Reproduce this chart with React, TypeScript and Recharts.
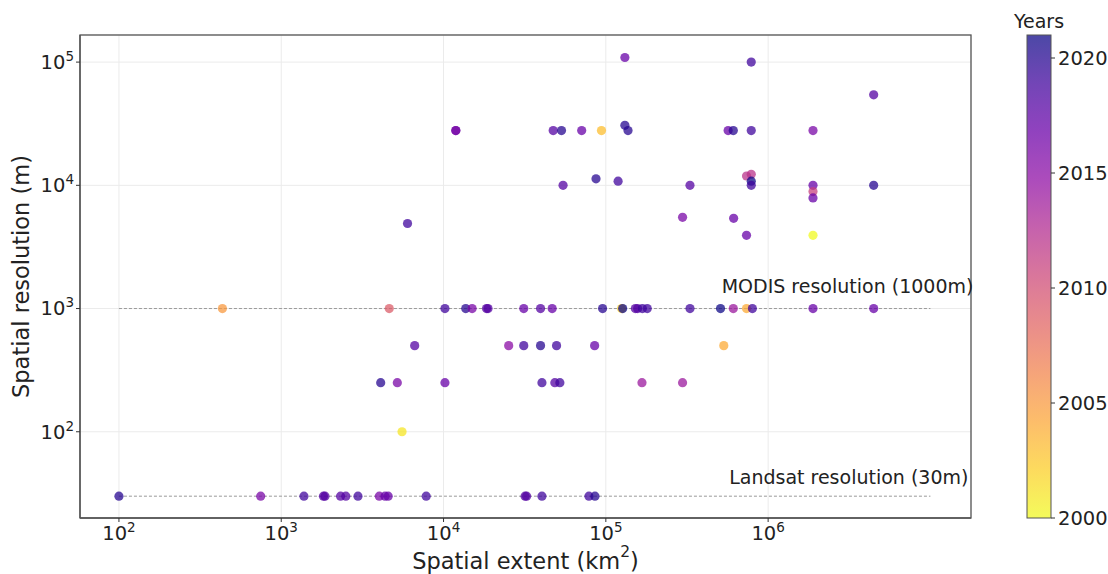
import {
  ScatterChart,
  Scatter,
  Cell,
  XAxis,
  YAxis,
  CartesianGrid,
  ReferenceLine,
  Customized,
} from 'recharts'

// study footprint (km²), pixel size (m) and publication year
const EXTENT_KM2 = [
  1.31e5, 1.19e4, 1.19e4, 4.74e4, 5.33e4, 7.1e4, 9.4e4, 1.31e5, 1.37e5, 8.7e4, 1.19e5,
  5.45e4, 3.3e5, 2.97e5, 6.0e3, 7.87e5, 4.47e6, 5.67e5, 6.1e5, 7.87e5, 1.89e6,
  7.36e5, 7.87e5, 7.87e5, 7.87e5, 1.89e6, 1.89e6, 1.89e6, 4.47e6, 6.13e5, 7.36e5,
  1.89e6,
  434, 4.63e3, 1.02e4, 1.37e4, 1.5e4, 1.84e4, 1.88e4, 3.12e4, 3.96e4, 4.67e4,
  9.55e4, 1.25e5, 1.27e5, 1.52e5, 1.57e5, 1.68e5, 1.8e5, 3.3e5, 5.09e5, 6.1e5,
  7.36e5, 8.0e5, 1.89e6, 4.47e6,
  6.64e3, 2.52e4, 3.12e4, 3.96e4, 4.97e4, 8.53e4, 5.33e5,
  4.1e3, 5.19e3, 1.02e4, 4.04e4, 4.85e4, 5.21e4, 1.67e5, 2.97e5,
  5.55e3,
  100, 747, 1.38e3, 1.82e3, 1.86e3, 2.32e3, 2.5e3, 2.97e3, 4.02e3, 4.36e3,
  4.56e3, 7.82e3, 3.18e4, 3.25e4, 4.04e4, 7.87e4, 8.57e4,
]

const RESOLUTION_M = [
  1.09e5, 27800, 27800, 27800, 27800, 27800, 27800, 30700, 27800, 11300, 10800,
  10000, 10000, 5500, 4900, 100000, 54300, 27800, 27800, 27800, 27800,
  11900, 12300, 10800, 10000, 10000, 8900, 7900, 10000, 5400, 3930,
  3930,
  1000, 1000, 1000, 1000, 1000, 1000, 1000, 1000, 1000, 1000,
  1000, 1000, 1000, 1000, 1000, 1000, 1000, 1000, 1000, 1000,
  1000, 1000, 1000, 1000,
  500, 500, 500, 500, 500, 500, 500,
  250, 250, 250, 250, 250, 250, 250, 250,
  100,
  30, 30, 30, 30, 30, 30, 30, 30, 30, 30,
  30, 30, 30, 30, 30, 30, 30,
]

const YEARS = [
  2017, 2017, 2016, 2018, 2020, 2017, 2003, 2020, 2020, 2020, 2019,
  2018, 2018, 2016, 2019, 2019, 2018, 2017, 2020, 2019, 2016,
  2012, 2012, 2021, 2019, 2017, 2011, 2017, 2020, 2017, 2017,
  2000,
  2005, 2009, 2019, 2020, 2016, 2018, 2018, 2017, 2018, 2017,
  2020, 2002, 2021, 2018, 2018, 2019, 2019, 2019, 2021, 2014,
  2004, 2019, 2017, 2017,
  2018, 2015, 2019, 2020, 2019, 2017, 2004,
  2020, 2016, 2017, 2019, 2018, 2019, 2014, 2014,
  2001,
  2020, 2016, 2019, 2018, 2018, 2018, 2018, 2019, 2016, 2017,
  2017, 2019, 2018, 2018, 2019, 2019, 2020,
]

const X_TICKS = [1e2, 1e3, 1e4, 1e5, 1e6]
const Y_TICKS = [1e2, 1e3, 1e4, 1e5]
const YEAR_TICKS = [2000, 2005, 2010, 2015, 2020]
const YEAR_MIN = 2000
const YEAR_MAX = 2021

const MODIS_RES = 1000
const LANDSAT_RES = 30
const GUIDE_FROM = 1e2
const GUIDE_TO = 1e7

const X_DOMAIN = [Math.pow(10, 1.76), Math.pow(10, 7.25)]
const Y_DOMAIN = [Math.pow(10, 1.3), Math.pow(10, 5.22)]

const W = 1108
const H = 574
const PLOT = { left: 80, top: 35, right: 971, bottom: 518 }
const CBAR = { left: 1027, right: 1051 }
const FONT = '"DejaVu Sans", sans-serif'
const ALPHA = 0.74

// matplotlib plasma, sampled every 0.1
const PLASMA = [
  '#0d0887', '#41049d', '#6a00a8', '#8f0da4', '#b12a90', '#cc4778',
  '#e16462', '#f2844b', '#fca636', '#fcce25', '#f0f921',
]

function hex(c: string) {
  return [1, 3, 5].map((i) => parseInt(c.slice(i, i + 2), 16))
}

function plasma(t: number): string {
  const s = Math.max(0, Math.min(1, t)) * (PLASMA.length - 1)
  const i = Math.min(PLASMA.length - 2, Math.floor(s))
  const f = s - i
  const a = hex(PLASMA[i])
  const b = hex(PLASMA[i + 1])
  const rgb = a.map((v, k) => Math.round(v + (b[k] - v) * f))
  return `rgb(${rgb.join(',')})`
}

// newest = dark blue, oldest = yellow (plasma reversed)
function yearColor(year: number): string {
  return plasma((YEAR_MAX - year) / (YEAR_MAX - YEAR_MIN))
}

const points = EXTENT_KM2.map((x, i) => ({ x, y: RESOLUTION_M[i], year: YEARS[i] }))

function XTick({ x, y, payload }: any) {
  const exp = Math.round(Math.log10(payload.value))
  return (
    <text x={x} y={y + 2} dy="0.71em" textAnchor="middle" fontSize={19.5} fill="#222" fontFamily={FONT}>
      <tspan>10</tspan>
      <tspan dy={-8} fontSize={13.5}>{exp}</tspan>
    </text>
  )
}

function YTick({ x, y, payload }: any) {
  const exp = Math.round(Math.log10(payload.value))
  return (
    <text x={x} y={y} dy="0.35em" textAnchor="end" fontSize={19.5} fill="#222" fontFamily={FONT}>
      <tspan>10</tspan>
      <tspan dy={-8} fontSize={13.5}>{exp}</tspan>
    </text>
  )
}

function GuideLabel({ viewBox, text, dx, dy }: any) {
  if (!viewBox) return null
  return (
    <text
      x={viewBox.x + viewBox.width + dx}
      y={viewBox.y + dy}
      textAnchor="end"
      dominantBaseline="central"
      fontSize={19}
      fill="#222"
      fontFamily={FONT}
    >
      {text}
    </text>
  )
}

function Frame() {
  const span = PLOT.bottom - PLOT.top
  const yearY = (yr: number) => PLOT.bottom - ((yr - YEAR_MIN) / (YEAR_MAX - YEAR_MIN)) * span
  const stops = Array.from({ length: 21 }, (_, i) => i / 20)
  return (
    <g>
      <rect
        x={PLOT.left}
        y={PLOT.top}
        width={PLOT.right - PLOT.left}
        height={PLOT.bottom - PLOT.top}
        fill="none"
        stroke="#555"
        strokeWidth={1.3}
      />
      <defs>
        <linearGradient id="cbar" x1="0" y1="0" x2="0" y2="1">
          {stops.map((t) => (
            <stop key={t} offset={t} stopColor={plasma(t)} stopOpacity={ALPHA} />
          ))}
        </linearGradient>
      </defs>
      <rect
        x={CBAR.left}
        y={PLOT.top}
        width={CBAR.right - CBAR.left}
        height={span}
        fill="url(#cbar)"
        stroke="#555"
        strokeWidth={1}
      />
      {YEAR_TICKS.map((yr) => (
        <g key={yr}>
          <line x1={CBAR.right} x2={CBAR.right + 4} y1={yearY(yr)} y2={yearY(yr)} stroke="#333" />
          <text
            x={CBAR.right + 7}
            y={yearY(yr)}
            dominantBaseline="central"
            fontSize={19.5}
            fill="#222"
            fontFamily={FONT}
          >
            {yr}
          </text>
        </g>
      ))}
      <text
        x={(CBAR.left + CBAR.right) / 2}
        y={21}
        textAnchor="middle"
        dominantBaseline="central"
        fontSize={19}
        fill="#222"
        fontFamily={FONT}
      >
        Years
      </text>
      <text
        x={21}
        y={(PLOT.top + PLOT.bottom) / 2}
        transform={`rotate(-90 21 ${(PLOT.top + PLOT.bottom) / 2})`}
        textAnchor="middle"
        dominantBaseline="central"
        fontSize={22.5}
        fill="#222"
        fontFamily={FONT}
      >
        Spatial resolution (m)
      </text>
      <text
        x={(PLOT.left + PLOT.right) / 2}
        y={561}
        textAnchor="middle"
        dominantBaseline="central"
        fontSize={22.5}
        fill="#222"
        fontFamily={FONT}
      >
        Spatial extent (km<tspan dy={-9} fontSize={15.5}>2</tspan>
        <tspan dy={9}>)</tspan>
      </text>
    </g>
  )
}

export default function App() {
  return (
    <div style={{ position: 'absolute', left: 0, top: 0, width: W, height: H, background: '#fff' }}>
      <ScatterChart
        width={W}
        height={H}
        margin={{ top: PLOT.top, right: W - PLOT.right, bottom: 0, left: 0 }}
      >
        <CartesianGrid stroke="#ebebeb" strokeWidth={1} />
        <XAxis
          dataKey="x"
          type="number"
          scale="log"
          domain={X_DOMAIN}
          allowDataOverflow
          ticks={X_TICKS}
          tick={<XTick />}
          tickSize={4}
          tickLine={{ stroke: '#333' }}
          axisLine={{ stroke: '#555', strokeWidth: 1.3 }}
          height={H - PLOT.bottom}
        />
        <YAxis
          dataKey="y"
          type="number"
          scale="log"
          domain={Y_DOMAIN}
          allowDataOverflow
          ticks={Y_TICKS}
          tick={<YTick />}
          tickSize={4}
          tickLine={{ stroke: '#333' }}
          axisLine={{ stroke: '#555', strokeWidth: 1.3 }}
          width={PLOT.left}
        />
        <ReferenceLine
          segment={[{ x: GUIDE_FROM, y: MODIS_RES }, { x: GUIDE_TO, y: MODIS_RES }]}
          stroke="#999"
          strokeWidth={1}
          strokeDasharray="3 2"
          ifOverflow="visible"
          label={<GuideLabel text="MODIS resolution (1000m)" dx={43} dy={-23} />}
        />
        <ReferenceLine
          segment={[{ x: GUIDE_FROM, y: LANDSAT_RES }, { x: GUIDE_TO, y: LANDSAT_RES }]}
          stroke="#999"
          strokeWidth={1}
          strokeDasharray="3 2"
          ifOverflow="visible"
          label={<GuideLabel text="Landsat resolution (30m)" dx={38} dy={-19} />}
        />
        <Scatter
          data={points}
          isAnimationActive={false}
          shape={(p: any) => (
            <circle cx={p.cx} cy={p.cy} r={4.6} fill={p.fill} fillOpacity={ALPHA} />
          )}
        >
          {points.map((d, i) => (
            <Cell key={i} fill={yearColor(d.year)} />
          ))}
        </Scatter>
        <Customized component={<Frame />} />
      </ScatterChart>
    </div>
  )
}
